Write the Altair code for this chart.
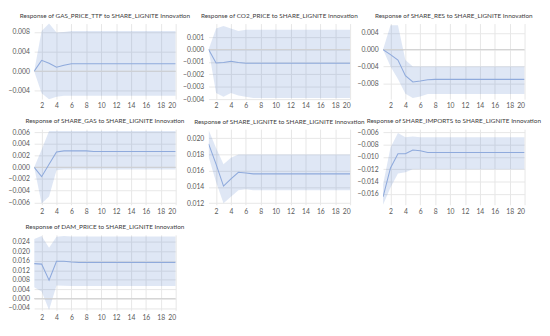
import altair as alt
import pandas as pd

steps = list(range(1, 21))

titles = [
    "Response of GAS_PRICE_TTF to SHARE_LIGNITE Innovation",
    "Response of CO2_PRICE to SHARE_LIGNITE Innovation",
    "Response of SHARE_RES to SHARE_LIGNITE Innovation",
    "Response of SHARE_GAS to SHARE_LIGNITE Innovation",
    "Response of SHARE_LIGNITE to SHARE_LIGNITE Innovation",
    "Response of SHARE_IMPORTS to SHARE_LIGNITE Innovation",
    "Response of DAM_PRICE to SHARE_LIGNITE Innovation",
]

gas_mid = [0.0, 0.0022, 0.0016, 0.0008, 0.0012, 0.0015] + [0.0015] * 14
gas_up = [0.0, 0.0082, 0.0097, 0.0079, 0.0080, 0.0082] + [0.0082] * 14
gas_lo = [0.0, -0.0045, -0.0057, -0.0052, -0.0050, -0.0050] + [-0.0050] * 14

co2_mid = [0.0, -0.00108, -0.00105, -0.00095, -0.00105, -0.0011] + [-0.0011] * 14
co2_up = [0.0, 0.0017, 0.0019, 0.0017, 0.0015, 0.0016] + [0.0016] * 14
co2_lo = [0.0, -0.0035, -0.0038, -0.0035, -0.0037, -0.0038] + [-0.0039] * 14

res_mid = [0.0, -0.0012, -0.0025, -0.0062, -0.0077, -0.0075, -0.0072] + [-0.0071] * 13
res_up = [0.0, 0.0058, 0.0058, -0.0025, -0.0040, -0.0040, -0.0040] + [-0.0040] * 13
res_lo = [0.0, -0.0040, -0.0070, -0.0105, -0.0115, -0.0112, -0.0106] + [-0.0106] * 13

sgas_mid = [0.0, -0.0016, 0.0005, 0.0026, 0.0028, 0.0028, 0.0028, 0.0028] + [0.0027] * 12
sgas_up = [0.0, 0.0030, 0.0062, 0.0062, 0.0062, 0.0062, 0.0062, 0.0062] + [0.0062] * 12
sgas_lo = [0.0, -0.0062, -0.0050, -0.0005, -0.0004, -0.0004, -0.0004, -0.0004] + [-0.0004] * 12

lig_mid = [0.0193, 0.0168, 0.0141, 0.0150, 0.0158, 0.0157, 0.0156] + [0.0156] * 13
lig_up = [0.0210, 0.0188, 0.0168, 0.0176, 0.0180, 0.0180, 0.0180] + [0.0180] * 13
lig_lo = [0.0177, 0.0146, 0.0120, 0.0128, 0.0136, 0.0137, 0.0136] + [0.0136] * 13

imp_mid = [-0.0165, -0.0118, -0.0095, -0.0095, -0.0089, -0.0090, -0.0093] + [-0.0093] * 13
imp_up = [-0.0145, -0.0085, -0.0061, -0.0068, -0.0067, -0.0068, -0.0068] + [-0.0068] * 13
imp_lo = [-0.0178, -0.0150, -0.0127, -0.0125, -0.0120, -0.0120, -0.0120] + [-0.0120] * 13

dam_mid = [0.0148, 0.0146, 0.0078, 0.0158, 0.0158, 0.0155] + [0.0153] * 14
dam_up = [0.0252, 0.0265, 0.0215, 0.0262, 0.0265, 0.0263] + [0.0263] * 14
dam_lo = [0.0048, 0.0030, -0.0048, 0.0055, 0.0054, 0.0053] + [0.0053] * 14

mids = [gas_mid, co2_mid, res_mid, sgas_mid, lig_mid, imp_mid, dam_mid]
ups = [gas_up, co2_up, res_up, sgas_up, lig_up, imp_up, dam_up]
los = [gas_lo, co2_lo, res_lo, sgas_lo, lig_lo, imp_lo, dam_lo]

y_domains = [
    [-0.0057, 0.0097],
    [-0.0040, 0.0021],
    [-0.0118, 0.0062],
    [-0.0064, 0.0065],
    [0.0118, 0.0211],
    [-0.0178, -0.0055],
    [-0.0050, 0.0270],
]
y_ticks = [
    [-0.004, 0.0, 0.004, 0.008],
    [-0.004, -0.003, -0.002, -0.001, 0.0, 0.001],
    [-0.008, -0.004, 0.0, 0.004],
    [-0.006, -0.004, -0.002, 0.0, 0.002, 0.004, 0.006],
    [0.012, 0.014, 0.016, 0.018, 0.020],
    [-0.016, -0.014, -0.012, -0.010, -0.008, -0.006],
    [-0.004, 0.0, 0.004, 0.008, 0.012, 0.016, 0.020, 0.024],
]
x_ticks = [2, 4, 6, 8, 10, 12, 14, 16, 18, 20]

FONT = "Lato"
TXT = "#595959"
GRID = "#e6e6e6"
W, H = 146, 78


def panel(i):
    df = pd.DataFrame({"step": steps, "mid": mids[i], "up": ups[i], "lo": los[i]})
    xax = alt.Axis(values=x_ticks, title=None, ticks=False, domain=False,
                   labelFontSize=7, labelColor=TXT, labelFont=FONT,
                   gridColor=GRID, labelPadding=3, labelOverlap=False)
    yax = alt.Axis(values=y_ticks[i], format=".3f", title=None, ticks=False,
                   domain=False, labelFontSize=7, labelColor=TXT,
                   labelFont=FONT, gridColor=GRID, labelPadding=5,
                   labelOverlap=False, labelFlush=False)
    xscale = alt.Scale(domain=[1, 20], nice=False)
    yscale = alt.Scale(domain=y_domains[i], nice=False, zero=False)
    band = alt.Chart(df).mark_area(color="#4472c4", opacity=0.17, clip=True).encode(
        x=alt.X("step:Q", scale=xscale, axis=xax),
        y=alt.Y("lo:Q", scale=yscale, axis=yax),
        y2="up:Q",
    )
    line = alt.Chart(df).mark_line(color="#8faadc", strokeWidth=1.1, clip=True).encode(
        x=alt.X("step:Q", scale=xscale, axis=xax),
        y=alt.Y("mid:Q", scale=yscale, axis=yax))
    layers = [band]
    lo_d, hi_d = y_domains[i]
    if lo_d < 0 < hi_d:
        zero = alt.Chart(pd.DataFrame({"z": [0.0]})).mark_rule(
            color="#d0d0d0", strokeWidth=1).encode(
            y=alt.Y("z:Q", scale=yscale, axis=yax))
        layers.append(zero)
    layers.append(line)
    return alt.layer(*layers).properties(
        width=W, height=H,
        title=alt.TitleParams(titles[i], fontSize=6.6, font=FONT, color="#404040",
                              fontWeight="normal", offset=4, anchor="middle"),
    )


p = [panel(i) for i in range(7)]

chart = alt.concat(
    *p, columns=3, spacing=alt.RowColnumber(row=31, column=34), bounds="flush"
).properties(padding=0, background="white").configure_view(stroke=None).configure_axis(gridWidth=1)

chart.save("out.html", embed_options={"renderer": "svg", "actions": False})
